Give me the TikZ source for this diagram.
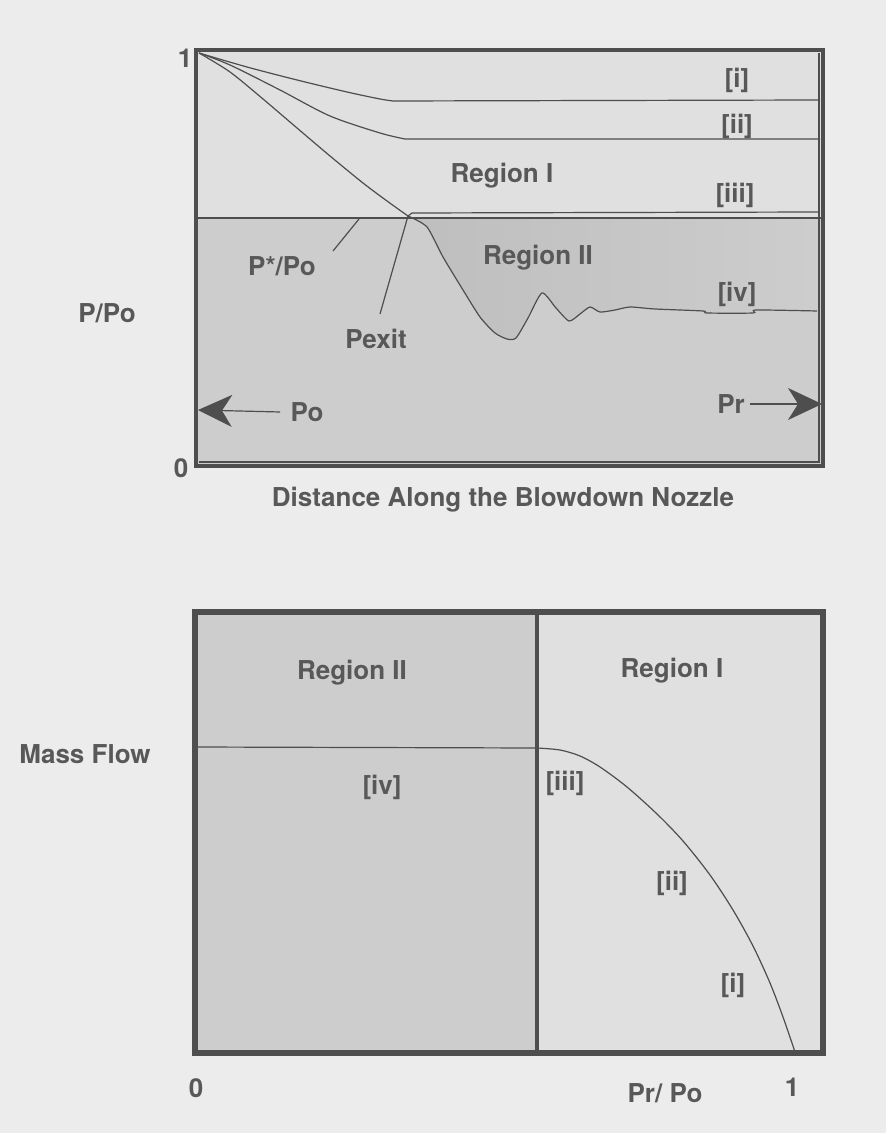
\documentclass[tikz,border=0pt]{standalone}
\usepackage{fontspec}
\setmainfont{TeX Gyre Heros}
\usetikzlibrary{arrows.meta}
\definecolor{paper}{RGB}{236,236,236}
\definecolor{regone}{RGB}{224,224,224}
\definecolor{regtwo}{RGB}{205,205,205}
\definecolor{band}{RGB}{190,190,190}
\definecolor{ink}{RGB}{78,78,78}
\definecolor{txt}{RGB}{88,88,88}
\tikzset{
    lbl/.style={text=txt, font=\fontsize{13}{15}\selectfont\bfseries, inner sep=1pt},
    frame/.style={draw=ink, line width=2.2pt},
    curve/.style={draw=ink, line width=0.6pt},
    bigarrow/.style={draw=ink, line width=0.6pt, -{Stealth[length=17pt,width=16pt,inset=5pt]}},
}
\begin{document}
\begin{tikzpicture}[x=0.5pt,y=-0.5pt]
                \useasboundingbox[fill=paper] (0,0) rectangle (886,1133);

                % upper plot: pressure along the nozzle
                \fill[regone] (196,50) rectangle (823,218);
                \fill[regtwo] (196,218) rectangle (823,466);
                \shade[left color=band, right color=regtwo] plot[smooth,tension=0.4] coordinates {(408,217) (427,227) (443,257) (463,290) (480,317) (495,333) (507,339) (516,338) (528,318) (542,293) (556,308) (569,321) (580,314) (590,307) (600,312) (615,310) (630,307) (655,309) (703,311) (707,313) (753,313) (756,310) (817,311)} |- (408,218) -- cycle;
                \draw[curve] (199,462) -- (819,462) -- (819,53);
                \draw[frame] (196,50) rectangle (823,466);
                \draw[curve] (196,218) -- (823,218);

                \coordinate (start) at (199,53);
                \coordinate (exitpt) at (408,216);
                \draw[curve] (start) plot[smooth,tension=0.5] coordinates {(199,53) (247,67) (297,80) (347,92) (380,99) (393,101)} -- (820,100);
                \draw[curve] (start) plot[smooth,tension=0.5] coordinates {(199,53) (230,65) (280,90) (330,116) (380,133) (405,139)} -- (820,139);
                \draw[curve] (start) plot[smooth,tension=0.5] coordinates {(199,53) (230,72) (263,99) (297,128) (330,156) (363,183) (387,201) (408,216)};
                \draw[curve] (exitpt) -- (412,213) -- (820,212);
                \draw[curve] plot[smooth,tension=0.4] coordinates {(408,216) (427,227) (443,257) (463,290) (480,317) (495,333) (507,339) (516,338) (528,318) (542,293) (556,308) (569,321) (580,314) (590,307) (600,312) (615,310) (630,307) (655,309) (703,311) (707,313) (753,313) (756,310) (817,311)};

                \node[lbl] (one) at (185,58) {1};
                \node[lbl] (zero) at (181,468) {0};
                \node[lbl] (ppo) at (107,313) {P/Po};
                \node[lbl] (li) at (737,80) {[i]};
                \node[lbl] (lii) at (737,126) {[ii]};
                \node[lbl] (liii) at (735,195) {[iii]};
                \node[lbl] (liv) at (737,294) {[iv]};
                \node[lbl] (regI) at (502,176) {Region I};
                \node[lbl] (regII) at (538,258) {Region II};
                \node[lbl] (pstar) at (282,266) {P*/Po};
                \node[lbl] (pexit) at (376,339) {Pexit};
                \node[lbl] (po) at (307,412) {Po};
                \node[lbl] (pr) at (731,404) {Pr};
                \node[lbl] (dist) at (503,500) {Distance Along the Blowdown Nozzle};

                \coordinate (pstarfoot) at (333,251);
                \coordinate (pstarhead) at (359,219);
                \coordinate (pexitfoot) at (380,314);
                \coordinate (potip) at (198,410);
                \coordinate (prtip) at (822,404);
                \draw[curve] (pstarfoot) -- (pstarhead);
                \draw[curve] (pexitfoot) -- (exitpt);
                \draw[bigarrow] (po.west) ++(-8,0) -- (potip);
                \draw[bigarrow] (pr.east) ++(3,0) -- (prtip);

                % lower plot: mass flow against back pressure
                \fill[regtwo] (195,612) rectangle (537,1053);
                \fill[regone] (537,612) rectangle (823,1053);
                \draw[frame, line width=2.6pt] (195,612) rectangle (823,1053);
                \draw[frame, line width=1.8pt] (537,612) -- (537,1053);
                \coordinate (choke) at (537,748);
                \coordinate (full) at (795,1052);
                \draw[curve] (195,747) -- (choke);
                \draw[curve] plot[smooth,tension=0.5] coordinates {(537,748) (560,750) (580,756) (600,767) (627,787) (657,814) (683,841) (710,875) (733,910) (753,946) (770,983) (783,1017) (795,1052)};

                \node[lbl] (regIIb) at (352,673) {Region II};
                \node[lbl] (regIb) at (672,671) {Region I};
                \node[lbl] (mflow) at (85,754) {Mass Flow};
                \node[lbl] (biv) at (382,787) {[iv]};
                \node[lbl] (biii) at (565,783) {[iii]};
                \node[lbl] (bii) at (672,883) {[ii]};
                \node[lbl] (bi) at (733,985) {[i]};
                \node[lbl] (bzero) at (196,1088) {0};
                \node[lbl] (bone) at (792,1087) {1};
                \node[lbl] (prpo) at (665,1093) {Pr/ Po};
            \end{tikzpicture}
\end{document}
